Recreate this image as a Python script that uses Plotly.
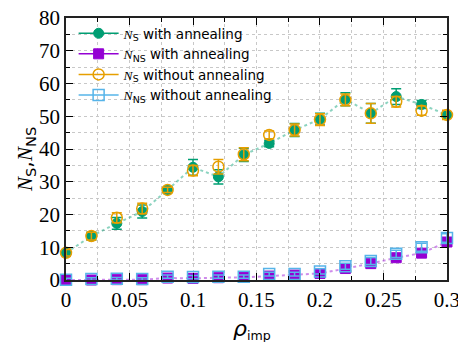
import plotly.graph_objects as go

rho = [0.00, 0.02, 0.04, 0.06, 0.08, 0.10, 0.12, 0.14, 0.16, 0.18, 0.20, 0.22, 0.24, 0.26, 0.28, 0.30]

ns_ann = [8.3, 13.4, 17.3, 20.9, 27.5, 34.4, 31.5, 38.2, 41.7, 45.8, 49.1, 55.2, 50.9, 56.0, 53.6, 50.4]
ns_ann_err = [1.0, 1.2, 1.8, 2.0, 0.8, 2.4, 2.2, 2.0, 1.0, 2.0, 1.8, 2.0, 3.0, 2.4, 1.2, 1.2]

nns_ann = [0.0, 0.0, 0.1, 0.1, 0.6, 0.5, 0.7, 0.8, 1.2, 1.5, 2.0, 3.5, 5.0, 6.8, 8.2, 11.6]
nns_ann_err = [0.3, 0.3, 0.3, 0.3, 0.5, 0.5, 0.5, 0.5, 0.6, 0.6, 0.8, 0.9, 1.2, 1.0, 1.0, 1.2]

ns_noann = [8.3, 13.4, 19.0, 21.8, 27.5, 33.4, 34.6, 38.4, 44.3, 45.8, 49.0, 55.0, 50.9, 54.4, 51.7, 50.4]
ns_noann_err = [1.0, 1.2, 1.5, 1.6, 0.8, 1.6, 2.2, 2.0, 1.2, 1.8, 1.8, 1.8, 3.0, 1.6, 1.4, 1.4]

nns_noann = [0.1, 0.3, 0.4, 0.3, 1.0, 0.9, 1.0, 1.0, 1.8, 1.8, 2.6, 4.2, 5.8, 8.0, 10.0, 12.8]
nns_noann_err = [0.4, 0.4, 0.4, 0.4, 0.5, 0.5, 0.5, 0.5, 0.6, 0.6, 0.8, 0.9, 1.1, 1.1, 1.2, 1.3]

x_ticks = [0, 0.05, 0.1, 0.15, 0.2, 0.25, 0.3]
x_ticktext = ["0", "0.05", "0.1", "0.15", "0.2", "0.25", "0.3"]

labels = [
    '<span style="font-family:Liberation Serif"><i>N</i></span><sub>S</sub> with annealing',
    '<span style="font-family:Liberation Serif"><i>N</i></span><sub>NS</sub> with annealing',
    '<span style="font-family:Liberation Serif"><i>N</i></span><sub>S</sub> without annealing',
    '<span style="font-family:Liberation Serif"><i>N</i></span><sub>NS</sub> without annealing',
]

GREEN = "#009E73"
PURPLE = "#9400D3"
ORANGE = "#E69F00"
BLUE = "#56B4E9"

fig = go.Figure()

# dotted connecting lines
fig.add_trace(go.Scatter(x=rho, y=ns_ann, mode="lines", showlegend=False, hoverinfo="skip",
                         line=dict(color="rgba(0,158,115,0.45)", width=2, dash="dot"), cliponaxis=False))
fig.add_trace(go.Scatter(x=rho, y=nns_ann, mode="lines", showlegend=False, hoverinfo="skip",
                         line=dict(color="rgba(148,0,211,0.45)", width=2, dash="dot"), cliponaxis=False))

series = [
    (ns_ann, ns_ann_err, GREEN, dict(symbol="circle", size=10, color=GREEN, line=dict(color=GREEN, width=1))),
    (nns_ann, nns_ann_err, PURPLE, dict(symbol="square", size=10, color=PURPLE, line=dict(color=PURPLE, width=1))),
    (ns_noann, ns_noann_err, ORANGE, dict(symbol="circle-open", size=11, color=ORANGE, line=dict(color=ORANGE, width=1.5))),
    (nns_noann, nns_noann_err, BLUE, dict(symbol="square-open", size=11, color=BLUE, line=dict(color=BLUE, width=1.5))),
]

for (y, err, col, mk), lab in zip(series, labels):
    fig.add_trace(go.Scatter(
        x=rho, y=y, mode="markers", marker=mk, showlegend=False, cliponaxis=False,
        error_y=dict(type="data", array=err, visible=True, color=col, thickness=1.5, width=5),
    ))

# legend entries
for (y, err, col, mk), lab in zip(series, labels):
    fig.add_trace(go.Scatter(
        x=[None], y=[None], mode="lines+markers", name=lab,
        marker=mk, line=dict(color=col, width=1.5),
    ))

axis_common = dict(
    showline=True, linecolor="#222", linewidth=1.5, mirror="ticks",
    ticks="inside", ticklen=7, tickwidth=1.2, tickcolor="#000",
    showgrid=True, gridcolor="#c8c8c8", griddash="dot", gridwidth=1,
    zeroline=False, automargin=False, ticklabeloverflow="allow",
    tickfont=dict(family="Liberation Serif", size=21, color="#000"),
)

fig.update_xaxes(
    range=[0, 0.30001], tickmode="array", tickvals=x_ticks, ticktext=x_ticktext,
    minor=dict(dtick=0.025, tick0=0, ticks="inside", ticklen=4, tickcolor="#000", showgrid=True,
               gridcolor="#c8c8c8", griddash="dot", gridwidth=1),
    **axis_common,
)
fig.update_yaxes(
    range=[0, 80], dtick=10, tick0=0,
    minor=dict(dtick=5, ticks="inside", ticklen=4, tickcolor="#000", showgrid=True,
               gridcolor="#c8c8c8", griddash="dot", gridwidth=1),
    **axis_common,
)

# axis titles
fig.add_annotation(
    text='<span style="font-size:22px"><i>ρ</i></span><sub>imp</sub>',
    xref="paper", yref="paper", x=(252 - 66) / 381, y=(280 - 329) / 262,
    xanchor="center", yanchor="middle", showarrow=False,
    font=dict(family="DejaVu Sans", size=18, color="#000"),
)
fig.add_annotation(
    text='<span style="font-family:Liberation Serif"><i>N</i></span><sub>S</sub>,'
         '<span style="font-family:Liberation Serif"><i>N</i></span><sub>NS</sub>',
    xref="paper", yref="paper", x=(26 - 66) / 381, y=(280 - 160) / 262,
    xanchor="center", yanchor="middle", textangle=-90, showarrow=False,
    font=dict(family="DejaVu Sans", size=21, color="#000"),
)

fig.update_layout(
    width=458, height=342,
    margin=dict(l=66, r=11, t=18, b=62),
    paper_bgcolor="white", plot_bgcolor="white",
    legend=dict(x=0.02, y=1.0, xanchor="left", yanchor="top", bgcolor="rgba(0,0,0,0)",
                font=dict(family="DejaVu Sans", size=13.5, color="#000"), itemwidth=40,
                tracegroupgap=0),
)

fig.write_html("out.html")
